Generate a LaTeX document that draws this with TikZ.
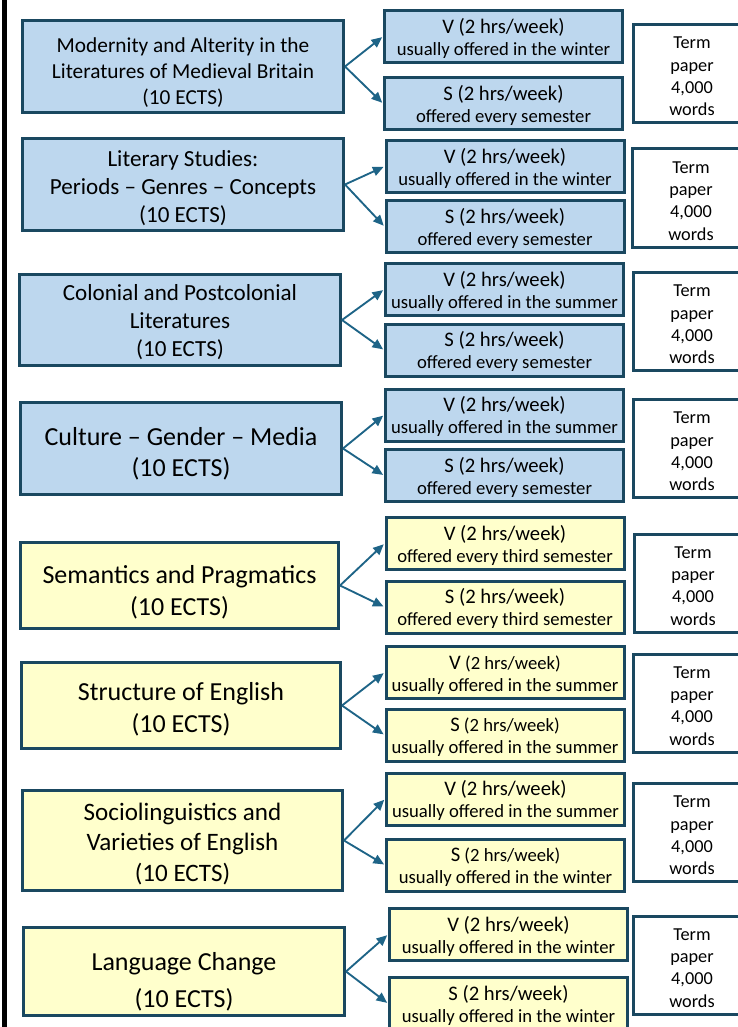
\documentclass[tikz,border=0pt]{standalone}
\usepackage{fontspec}
\setmainfont{Carlito}
\usepackage{tikz}
\usetikzlibrary{arrows.meta}
\usepackage{xcolor}

\definecolor{frame}{RGB}{26,72,96}
\definecolor{arrowblue}{RGB}{30,100,135}
\definecolor{litblue}{RGB}{189,215,238}
\definecolor{lingyellow}{RGB}{255,255,204}

% tall strut on a first line, pushes the text down in its box
\newcommand{\strutto}[1]{\rule{0pt}{#1}}
% first line of a course box
\newcommand{\hd}[1]{{\fontsize{15.5}{16.7}\selectfont\strutto{13.8pt}#1}}

\tikzset{
    wh/.style 2 args={minimum width=#1*0.75pt, minimum height=#2*0.75pt},
    boxed/.style={draw=frame, line width=2.25pt, inner sep=0pt, align=center},
    module/.style={boxed, wh={321}{92}},
    course/.style={boxed, wh={238}{52}, font=\fontsize{14}{16.5}\selectfont},
    termbox/.style={boxed, fill=white, wh={117}{98}, font=\fontsize{13.7}{16.7}\selectfont},
    conn/.style={draw=arrowblue, line width=1.4pt, -{Triangle[length=8pt,width=7pt]}, shorten >=0.8pt}
}

\begin{document}
\begin{tikzpicture}[x=0.75pt, y=-0.75pt]
    \useasboundingbox (0,0) rectangle (738,1027);
    \clip (0,0) rectangle (738,1027);

    % black bar on the left
    \fill[black] (2,0) rectangle (7,1027);

    % Literature modules
    \begin{scope}[every node/.append style={fill=litblue}]
        \node[module, font=\fontsize{16}{19.5}\selectfont] (m1) at (183,66.5)
            {\strutto{20.5pt}Modernity and Alterity in the\\Literatures of Medieval Britain\\(10 ECTS)};
        \node[course] (v1) at (503.5,36.5) {\hd{V (2 hrs/week)}\\usually offered in the winter};
        \node[course] (s1) at (503.5,103.5) {\hd{S (2 hrs/week)}\\offered every semester};

        \node[module, font=\fontsize{17.3}{21}\selectfont] (m2) at (183,184.5)
            {\strutto{17pt}Literary Studies:\\Periods – Genres – Concepts\\(10 ECTS)};
        \node[course] (v2) at (505,166.5) {\hd{V (2 hrs/week)}\\usually offered in the winter};
        \node[course] (s2) at (505,226.5) {\hd{S (2 hrs/week)}\\offered every semester};

        \node[module, wh={321}{91}, font=\fontsize{17.3}{21}\selectfont] (m3) at (180,320)
            {\strutto{15.5pt}Colonial and Postcolonial\\Literatures\\(10 ECTS)};
        \node[course] (v3) at (504.5,289.5) {\hd{V (2 hrs/week)}\\usually offered in the summer};
        \node[course] (s3) at (504.5,350) {\hd{S (2 hrs/week)}\\offered every semester};

        \node[module, font=\fontsize{19.5}{23.8}\selectfont] (m4) at (181,448.5)
            {\strutto{21.5pt}Culture – Gender – Media\\(10 ECTS)};
        \node[course] (v4) at (504.5,415) {\hd{V (2 hrs/week)}\\usually offered in the summer};
        \node[course] (s4) at (504.5,475.5) {\hd{S (2 hrs/week)}\\offered every semester};
    \end{scope}

    % Linguistics modules
    \begin{scope}[every node/.append style={fill=lingyellow}]
        \node[module, wh={318}{86}, font=\fontsize{19.5}{24}\selectfont] (m5) at (179.5,585.5)
            {\strutto{23pt}Semantics and Pragmatics\\(10 ECTS)};
        \node[course] (v5) at (505,543.5) {\hd{V (2 hrs/week)}\\offered every third semester};
        \node[course] (s5) at (505,607) {\hd{S (2 hrs/week)}\\offered every third semester};

        \node[module, wh={319}{86}, font=\fontsize{19.5}{24}\selectfont] (m6) at (181,705.5)
            {\strutto{18.5pt}Structure of English\\(10 ECTS)};
        \node[course] (v6) at (505,672.5) {\hd{V} (2 hrs/week)\\usually offered in the summer};
        \node[course] (s6) at (505,735) {\hd{S} (2 hrs/week)\\usually offered in the summer};

        \node[module, wh={320}{100}, font=\fontsize{18.8}{23}\selectfont] (m7) at (182.5,840.5)
            {\strutto{18pt}Sociolinguistics and\\Varieties of English\\(10 ECTS)};
        \node[course] (v7) at (505.5,799) {\hd{V (2 hrs/week)}\\usually offered in the summer};
        \node[course] (s7) at (505.5,865) {\hd{S} (2 hrs/week)\\usually offered in the winter};

        \node[module, wh={321}{88}, font=\fontsize{19.5}{27.8}\selectfont] (m8) at (184,971.5)
            {\strutto{29pt}Language Change\\(10 ECTS)};
        \node[course] (v8) at (508.5,934.5) {\hd{V (2 hrs/week)}\\usually offered in the winter};
        \node[course] (s8) at (508.5,1003.5) {\hd{S (2 hrs/week)}\\usually offered in the winter};
    \end{scope}

    % Term paper boxes
    \foreach \i/\x/\y in {1/692/73.5, 2/691/198, 3/692/321.5, 4/692/448.5,
                          5/693/583, 6/692/703, 7/692/832.5, 8/692/965} {
        \node[termbox] (t\i) at (\x,\y) {\strutto{13.2pt}Term\\paper\\4,000\\words};
    }

    % Arrows from each module to its two courses
    \foreach \i in {1,...,8} {
        \draw[conn] (m\i.east) -- (v\i.west);
        \draw[conn] (m\i.east) -- (s\i.west);
    }
\end{tikzpicture}
\end{document}
